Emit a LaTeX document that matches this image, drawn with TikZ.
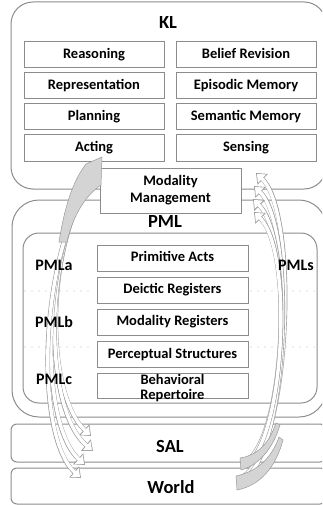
\documentclass[tikz,border=0pt]{standalone}
\usepackage{fontspec}
\setmainfont{Carlito}
\usetikzlibrary{arrows.meta}
\definecolor{boxgray}{HTML}{8C8C8C}
\definecolor{arrowgray}{HTML}{9A9A9A}
\definecolor{tailgray}{HTML}{D4D4D4}
\definecolor{dotgray}{HTML}{BBBBBB}
\tikzset{
  outerbox/.style={draw=boxgray, line width=1pt},
  kbox/.style={draw=boxgray, line width=1pt, fill=white, minimum width=140, minimum height=26, inner sep=0pt,
    font=\fontsize{14.5}{17}\selectfont\bfseries, text height=9.5pt, text depth=2.5pt},
  pbox/.style={draw=boxgray, line width=1pt, fill=white, minimum width=151, minimum height=26, inner sep=0pt,
    font=\fontsize{14.5}{17}\selectfont\bfseries, text height=9.5pt, text depth=2.5pt},
  biglabel/.style={font=\fontsize{18.5}{20}\selectfont\bfseries, inner sep=0pt},
  sidelabel/.style={font=\fontsize{16}{18}\selectfont\bfseries, inner sep=0pt},
  dotline/.style={draw=dotgray, line width=1.3pt, line cap=round, dash pattern=on 0pt off 7pt},
  flow/.style={draw=white, line width=3.4pt, shorten >=1.3pt, -{Triangle[length=7pt, width=11.5pt]},
    preaction={draw=arrowgray, line width=4.5pt, shorten >=0pt, -{Triangle[length=9.2pt, width=14.3pt]}}},
  tail/.style={draw=arrowgray, line width=0.5pt, fill=tailgray}
}
\begin{document}
\begin{tikzpicture}[x=1pt,y=-1pt]
\useasboundingbox (0,0) rectangle (322,505);
\clip (0,0) rectangle (322,505);
% outer layers
\draw[outerbox, rounded corners=22pt] (11,2) rectangle (326,189);
\draw[outerbox, rounded corners=27pt] (12,200) rectangle (326,417);
\draw[outerbox, rounded corners=16pt] (23,233) rectangle (317,403);
\draw[outerbox, rounded corners=6pt] (11,424) rectangle (326,462);
\draw[outerbox, rounded corners=6pt] (11,468) rectangle (326,504);
% KL
\node[biglabel] (kl) at (168,23) {KL};
\node[kbox] (reason) at (94,55) {Reasoning};
\node[kbox] (belief) at (246,55) {Belief Revision};
\node[kbox] (repr) at (94,86) {Representation};
\node[kbox] (epis) at (246,86) {Episodic Memory};
\node[kbox] (plan) at (94,117) {Planning};
\node[kbox] (sem) at (246,117) {Semantic Memory};
\node[kbox] (act) at (94,148) {Acting};
\node[kbox] (sens) at (246,148) {Sensing};
% PML
\node[biglabel] (pml) at (165,222) {PML};
\coordinate (d1a) at (25,291); \coordinate (d1b) at (95,291);
\coordinate (d1c) at (251,291); \coordinate (d1d) at (316,291);
\coordinate (d2a) at (25,347); \coordinate (d2b) at (95,347);
\coordinate (d2c) at (251,347); \coordinate (d2d) at (316,347);
\draw[dotline] (d1a) -- (d1b);
\draw[dotline] (d1c) -- (d1d);
\draw[dotline] (d2a) -- (d2b);
\draw[dotline] (d2c) -- (d2d);
\node[pbox] (prim) at (172.5,258) {Primitive Acts};
\node[pbox] (deic) at (172.5,290) {Deictic Registers};
\node[pbox] (modr) at (172.5,322) {Modality Registers};
\node[pbox] (perc) at (172.5,354.5) {Perceptual Structures};
\node[pbox, minimum height=25] (beh) at (172.5,385.5) {};
\node[font=\fontsize{14.5}{15.5}\selectfont\bfseries, align=center, inner sep=0pt] (behtxt) at (172.5,388) {Behavioral\\Repertoire};
% Modality management
\node[draw=boxgray, line width=1pt, fill=white, minimum width=141, minimum height=45, inner sep=0pt,
  font=\fontsize{14.5}{17}\selectfont\bfseries, align=center] (mm) at (170.5,190.5) {Modality\\Management};
% SAL, World
\node[biglabel] (sal) at (170,446) {SAL};
\node[biglabel] (world) at (171,487) {World};
% left arrows (acting)
\draw[flow] (100,163) .. controls (44,235) and (44,392) .. (91,436);
\draw[flow] (99,166) .. controls (42,240) and (42,408) .. (93,451);
\draw[flow] (97,169) .. controls (40,245) and (38,422) .. (85,465);
\draw[flow] (96,172) .. controls (38,250) and (34,436) .. (81,478);
\draw[tail] (86,164) -- (102,157) -- (101,185) .. controls (86,195) and (73,215) .. (67,242)
   -- (59,242) .. controls (64,210) and (72,182) .. (86,164) -- cycle;
% right arrows (sensing)
\draw[flow] (240,478) .. controls (290,458) and (300,215) .. (256,173);
\draw[flow] (240,482) .. controls (288,462) and (297,228) .. (254,186);
\draw[flow] (243,463) .. controls (286,445) and (294,240) .. (253,199);
\draw[flow] (243,467) .. controls (284,449) and (295,252) .. (254,212);
\draw[tail] (240,458) -- (241,470) .. controls (256,466) and (272,452) .. (280,425)
   -- (276,423) .. controls (268,447) and (254,456) .. (240,458) -- cycle;
\draw[tail] (236,476) -- (237,490) .. controls (258,486) and (275,470) .. (283,440)
   -- (279,437) .. controls (270,462) and (254,472) .. (236,476) -- cycle;
% side labels
\node[sidelabel] (pmla) at (54,265) {PMLa};
\node[sidelabel] (pmlb) at (54,322) {PMLb};
\node[sidelabel] (pmlc) at (54,379) {PMLc};
\node[sidelabel] (pmls) at (296,265) {PMLs};
\end{tikzpicture}
\end{document}
